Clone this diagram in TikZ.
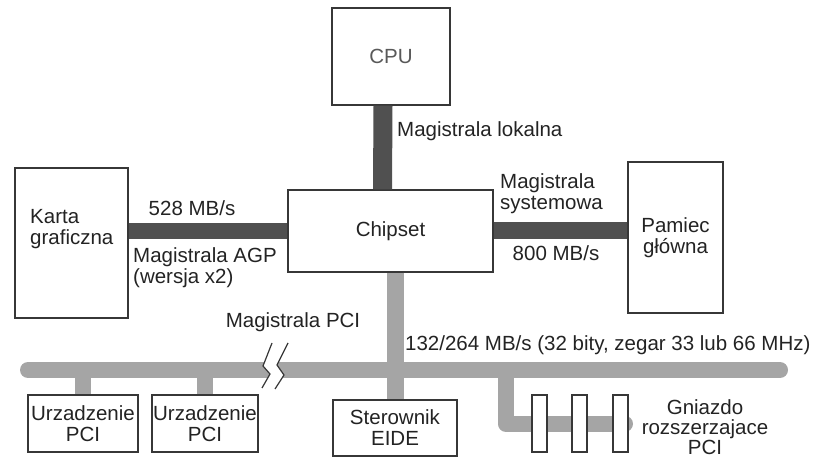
\documentclass[tikz,border=0pt]{standalone}
\usepackage{fontspec}
\setmainfont{Liberation Sans}
\usetikzlibrary{calc}
\definecolor{busdark}{RGB}{80,80,80}
\definecolor{buslight}{RGB}{165,165,165}
\definecolor{boxline}{RGB}{55,55,55}
\definecolor{inktext}{RGB}{35,35,35}

\begin{document}
\begin{tikzpicture}[x=1pt, y=-1pt,
  every node/.style={font=\fontsize{20.5}{21}\selectfont, text=inktext, align=center, inner sep=0pt},
  unit/.style={draw=boxline, line width=1.4pt, fill=white},
  darkbus/.style={draw=busdark, line width=#1},
  lightbus/.style={draw=buslight, line width=#1}]
  \useasboundingbox (0,0) rectangle (817,457);

  % Units
  \node[unit, minimum width=118pt, minimum height=97pt] (cpu) at (391,56.5) {\textcolor{black!65}{CPU}};
  \node[unit, minimum width=205pt, minimum height=82pt] (chip) at (390.5,231) {Chipset};
  \node[unit, minimum width=113pt, minimum height=150pt] (karta) at (71.5,243) {};
  \node[align=left, anchor=west] (kartatxt) at (30,229) {Karta\\graficzna};
  \node[unit, minimum width=95pt, minimum height=151pt] (pam) at (675.5,237.5) {Pamiec\\główna};

  % Magistrale przy chipsecie
  \draw[darkbus=19pt] ($(cpu.south)+(-8,0)$) -- ($(chip.north)+(-8,0)$);
  \draw[darkbus=16pt] (chip.west -| karta.east) -- (chip.west);
  \draw[darkbus=17pt] (chip.east) -- (chip.east -| pam.west);

  % Magistrala PCI
  \coordinate (pciL) at (28,370);
  \coordinate (pciR) at (780,370);
  \node[unit, minimum width=110pt, minimum height=57pt] (pci1) at (83,423.5) {Urzadzenie\\PCI};
  \node[unit, minimum width=106pt, minimum height=57pt] (pci2) at (205,423.5) {Urzadzenie\\PCI};
  \node[unit, minimum width=124pt, minimum height=56pt] (eide) at (395,428) {Sterownik\\EIDE};
  \draw[lightbus=16pt, line cap=round] (pciL) -- (pciR);
  \draw[lightbus=17pt] (eide.north |- chip.south) -- (eide.north);
  \draw[lightbus=16pt] (pci1.north |- pciL) -- (pci1.north);
  \draw[lightbus=16pt] (pci2.north |- pciL) -- (pci2.north);

  % Gniazda rozszerzajace
  \coordinate (expTop) at (505.5,370);
  \coordinate (expEnd) at (625,423.5);
  \draw[lightbus=16pt, line cap=round, line join=round] (expTop) |- (expEnd);
  \foreach \i/\x in {1/539.5,2/579.5,3/620.5}
    \node[unit, minimum width=15pt, minimum height=57pt] (slot\i) at (\x,423.5) {};

  % Przerwa na magistrali
  \fill[white] (272,343) -- (263,366) -- (270,374) -- (262,388) -- (275,389)
    -- (284,375) -- (277,365) -- (288,343) -- cycle;
  \draw[boxline, line width=1.2pt] (272,343) -- (263,366) -- (270,374) -- (262,388);
  \draw[boxline, line width=1.2pt] (288,343) -- (277,365) -- (284,375) -- (275,389);

  % Opisy
  \node[anchor=west] (lokal) at (397,131) {Magistrala lokalna};
  \node (agpspeed) at (192,208) {528 MB/s};
  \node[align=left, anchor=west] (agp) at (133,268) {Magistrala AGP\\(wersja x2)};
  \node[align=left, anchor=west] (sys) at (500,194) {Magistrala\\systemowa};
  \node (sysspeed) at (556,253) {800 MB/s};
  \node (pcilbl) at (293,322) {Magistrala PCI};
  \node[anchor=west] (pcispeed) at (405,345) {132/264 MB/s (32 bity, zegar 33 lub 66 MHz)};
  \node[font=\fontsize{20.5}{20}\selectfont] (gniazdo) at (705,427) {Gniazdo\\rozszerzajace\\PCI};
\end{tikzpicture}
\end{document}
